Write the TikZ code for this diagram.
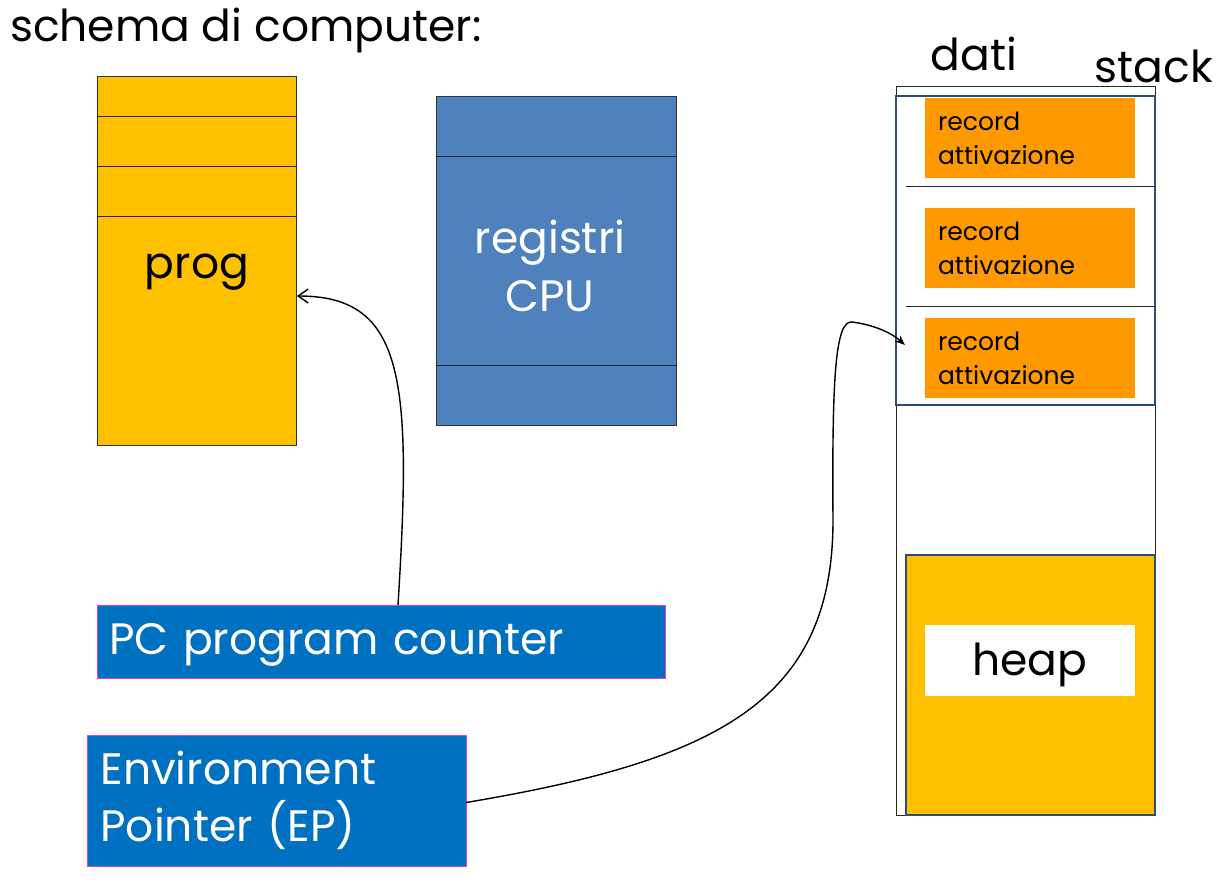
\documentclass[tikz,border=0pt]{standalone}
\usepackage{fontspec}
\setmainfont{Poppins}
\usetikzlibrary{arrows.meta,positioning}
\definecolor{progyellow}{HTML}{FFC000}
\definecolor{regblue}{HTML}{4F81BD}
\definecolor{ptrblue}{HTML}{0070C0}
\definecolor{ptrborder}{HTML}{E040E0}
\definecolor{recorange}{HTML}{FF9900}
\definecolor{stackline}{HTML}{2F4B78}

\begin{document}
\begin{tikzpicture}[x=0.5pt,y=-0.5pt,
    box/.style={rectangle, anchor=north west, inner sep=0pt, outer sep=0pt},
    progbox/.style={box, draw=black!80, fill=progyellow, minimum width=99.5pt, minimum height=184.5pt},
    regbox/.style={box, draw=black!80, fill=regblue, minimum width=120pt, minimum height=164.5pt},
    ptrbox/.style={box, draw=ptrborder, fill=ptrblue, text=white, align=left,
        font=\fontsize{22}{28.5}\selectfont, inner xsep=6pt},
    recbox/.style={box, fill=recorange, minimum width=105pt, minimum height=40pt,
        text width=92pt, inner xsep=6.5pt, align=left, font=\fontsize{12.5}{17}\selectfont},
    bigtext/.style={font=\fontsize{22}{29}\selectfont},
    divider/.style={draw=black!85, line width=0.5pt}
  ]
  \useasboundingbox (0,0) rectangle (1222,890);

  \node[anchor=west, bigtext] (title) at (3,30) {schema di computer:};

  % programma
  \node[progbox] (prog) at (97,76) {};
  \foreach \y in {116,166,216}
    \draw[divider] (97,\y) -- (296,\y);
  \node[bigtext] (progtxt) at (197,272) {prog};
  \coordinate (pctarget) at (297,296);

  % registri
  \node[regbox] (reg) at (436,96) {};
  \foreach \y in {156,365}
    \draw[divider] (436,\y) -- (676,\y);
  \node[bigtext, text=white, align=center] (regtxt) at (550,266) {registri\\ CPU};

  % dati / stack
  \node[bigtext] (dati) at (974,54) {dati};
  \node[bigtext] (stacktxt) at (1154,66) {stack};
  \node[box, draw=black!85, line width=0.5pt, minimum width=129.5pt, minimum height=364.5pt] (stack) at (896,86) {};
  \node[box, draw=stackline, line width=1.2pt, minimum width=129.5pt, minimum height=154.5pt] (frame) at (896,96) {};
  \foreach \y in {186,306}
    \draw[divider] (906,\y) -- (1155,\y);
  \node[recbox, yshift=-1pt] (rec1) at (925,96) {record\\attivazione};
  \node[recbox, yshift=-1pt] (rec2) at (925,206) {record\\attivazione};
  \node[recbox, yshift=-1pt] (rec3) at (925,316) {record\\attivazione};
  \coordinate (eptarget) at (905,345);

  % heap
  \node[box, draw=stackline, line width=1.2pt, fill=progyellow, minimum width=124.5pt, minimum height=130pt] (heap) at (906,555) {};
  \node[box, fill=white, minimum width=105pt, minimum height=35.5pt, bigtext, text depth=1pt] (heaptxt) at (925,625) {heap};

  % puntatori
  \node[ptrbox, minimum width=284pt, minimum height=36.5pt, text width=272pt, text depth=3pt] (pc) at (97,605) {PC program counter};
  \node[ptrbox, minimum width=189.5pt, minimum height=65.5pt, text width=176pt, inner xsep=6.5pt] (ep) at (87,735) {Environment\\Pointer (EP)};

  \draw[-{Straight Barb[length=5pt,width=7pt]}, line width=0.7pt]
    ([xshift=8.5pt]pc.north) .. controls (412,380) and (405,296) .. (pctarget);
  \draw[-{Stealth[length=5pt,width=4pt]}, line width=0.7pt]
    ([yshift=-1pt]ep.east) .. controls (720,760) and (833,700) .. (833,520)
    .. controls (832,380) and (835,320) .. (852,322)
    .. controls (868,324) and (888,330) .. (eptarget);
\end{tikzpicture}
\end{document}
